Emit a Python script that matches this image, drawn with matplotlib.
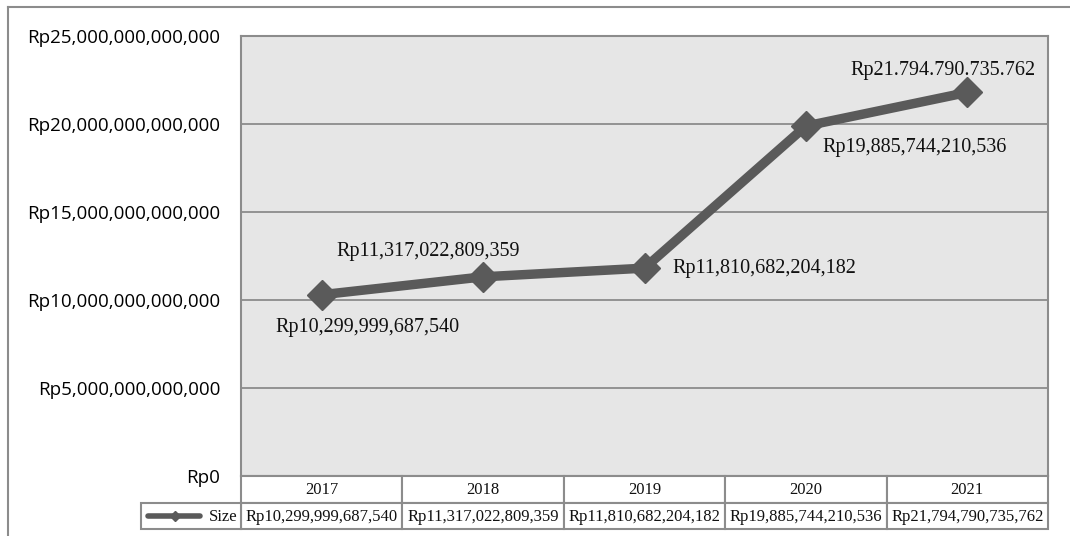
import matplotlib
matplotlib.use("Agg")
import matplotlib.pyplot as plt
from matplotlib.lines import Line2D
from matplotlib.patches import Rectangle

# data
years = ["2017", "2018", "2019", "2020", "2021"]
size_values = [10299999687540, 11317022809359, 11810682204182,
               19885744210536, 21794790735762]
point_labels = ["Rp10,299,999,687,540", "Rp11,317,022,809,359",
                "Rp11,810,682,204,182", "Rp19,885,744,210,536",
                "Rp21.794.790.735.762"]
table_labels = ["Rp10,299,999,687,540", "Rp11,317,022,809,359",
                "Rp11,810,682,204,182", "Rp19,885,744,210,536",
                "Rp21,794,790,735,762"]
series_name = "Size"
y_ticks = [0, 5e12, 10e12, 15e12, 20e12, 25e12]

# label offsets in pixels (dx, dy, ha)
label_offsets = [(46, -33, "center"), (-55, 25, "center"), (28, 0, "left"),
                 (17, -21, "left"), (-24, 22, "center")]

W, H = 1070, 536
fig = plt.figure(figsize=(W / 100, H / 100), dpi=100)
fig.patch.set_facecolor("white")

line_col = "#5a5a5a"
grid_col = "#8c8c8c"
serif = ["Liberation Serif", "DejaVu Serif"]
sans = ["Open Sans", "DejaVu Sans"]

# outer chart border
fig.add_artist(Line2D([8 / W, 8 / W], [0, 1 - 7 / H], transform=fig.transFigure,
                      color="#8c8c8c", lw=1.5))
fig.add_artist(Line2D([8 / W, 1], [1 - 7 / H, 1 - 7 / H], transform=fig.transFigure,
                      color="#8c8c8c", lw=1.5))

left, right, top, bottom = 241, 1048, 36, 476
ax = fig.add_axes([left / W, 1 - bottom / H, (right - left) / W, (bottom - top) / H])
ax.set_facecolor("#e6e6e6")
x = list(range(len(years)))
ax.plot(x, size_values, color=line_col, lw=6.8, marker="D", markersize=15,
        markerfacecolor=line_col, markeredgecolor=line_col, solid_joinstyle="miter",
        zorder=3)
ax.set_xlim(-0.5, len(years) - 0.5)
ax.set_ylim(0, 25e12)
ax.set_yticks(y_ticks)
ax.set_yticklabels([f"Rp{int(v):,}" for v in y_ticks], fontsize=13.5, family=sans)
ax.tick_params(axis="y", length=0, pad=15)
ax.set_xticks([])
for v in y_ticks[1:]:
    ax.axhline(v, color=grid_col, lw=1.3, zorder=1)
for s in ax.spines.values():
    s.set_color(grid_col)
    s.set_linewidth(1.5)

for xi, v, lab, (dx, dy, ha) in zip(x, size_values, point_labels, label_offsets):
    ax.annotate(lab, (xi, v), xytext=(dx, dy), textcoords="offset pixels",
                ha=ha, va="center", fontsize=14.5, family=serif, color="#111111")

# data table under the axes
row_h = 26.5
col_w = (right - left) / len(years)
leg_left = 141
tax = fig.add_axes([0, 0, 1, 1], facecolor="none")
tax.set_xlim(0, W)
tax.set_ylim(H, 0)
tax.axis("off")
edge = dict(edgecolor="#8c8c8c", facecolor="white", lw=1.5)
for i, (yr, val) in enumerate(zip(years, table_labels)):
    cx = left + i * col_w
    tax.add_patch(Rectangle((cx, bottom), col_w, row_h, **edge))
    tax.add_patch(Rectangle((cx, bottom + row_h), col_w, row_h, **edge))
    tax.text(cx + col_w / 2, bottom + row_h / 2 + 1, yr, ha="center", va="center",
             fontsize=12, family=serif, color="#111111")
    tax.text(cx + col_w / 2, bottom + 1.5 * row_h + 1, val, ha="center", va="center",
             fontsize=12, family=serif, color="#111111")
tax.add_patch(Rectangle((leg_left, bottom + row_h), left - leg_left, row_h, **edge))
ly = bottom + 1.5 * row_h
tax.plot([148, 200], [ly, ly], color=line_col, lw=4, solid_capstyle="round")
tax.plot([175], [ly], marker="D", markersize=5, color=line_col)
tax.text(237, ly + 1, series_name, ha="right", va="center", fontsize=12,
         family=serif, color="#111111")

fig.savefig("out.png", dpi=100)
